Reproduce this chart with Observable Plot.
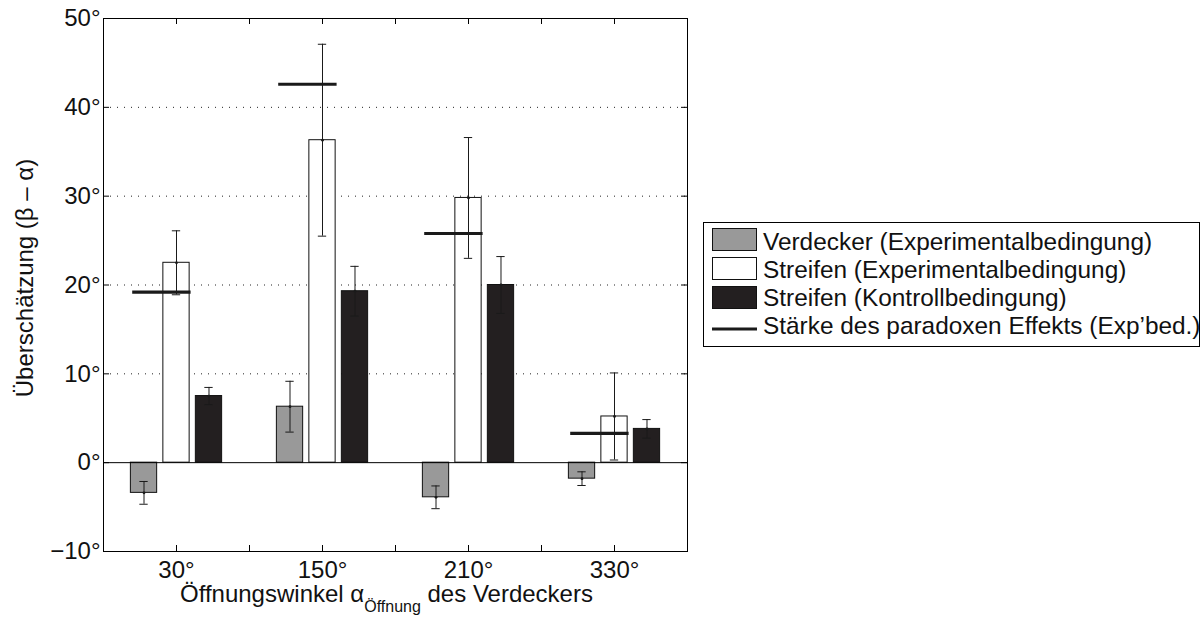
<!DOCTYPE html>
<html><head><meta charset="utf-8">
<script src="https://cdn.jsdelivr.net/npm/d3@7"></script>
<script src="https://cdn.jsdelivr.net/npm/@observablehq/plot@0.6"></script>
<style>body{margin:0;background:#fff} svg{display:block}</style>
</head><body><div id="chart"></div>
<script>
// ---- data ----
const groups = ["30°", "150°", "210°", "330°"];
const groupPos = [1, 3, 5, 7];
const occluder = [-3.4, 6.3, -3.9, -1.8];
const occluderErr = [1.28, 2.86, 1.28, 0.77];
const stripesExp = [22.5, 36.3, 29.8, 5.2];
const stripesExpErr = [3.6, 10.8, 6.8, 4.9];
const stripesCtrl = [7.5, 19.3, 20.0, 3.8];
const stripesCtrlErr = [0.97, 2.8, 3.2, 1.05];
const effect = [19.2, 42.6, 25.8, 3.3];
const yTicks = [-10, 0, 10, 20, 30, 40, 50];
const gridTicks = [10, 20, 30, 40];
const xTicks = [1, 2, 3, 4, 5, 6, 7];
const seriesNames = [
  "Verdecker (Experimentalbedingung)",
  "Streifen (Experimentalbedingung)",
  "Streifen (Kontrollbedingung)",
  "Stärke des paradoxen Effekts (Exp’bed.)"
];

// ---- styling ----
const FONT = "'Liberation Sans', Arial, Helvetica, sans-serif";
const fills = ["#999999", "#ffffff", "#231f20"];
const offsets = [-0.445, 0, 0.445];
const halfW = 0.18;
const cap = 0.057;

const seriesVals = [occluder, stripesExp, stripesCtrl];
const seriesErr = [occluderErr, stripesExpErr, stripesCtrlErr];
const bars = [];
groups.forEach((g, i) => {
  seriesVals.forEach((vals, s) => {
    const cx = groupPos[i] + offsets[s];
    bars.push({group: g, series: seriesNames[s], cx, x1: cx - halfW, x2: cx + halfW,
      value: vals[i], lo: vals[i] - seriesErr[s][i], hi: vals[i] + seriesErr[s][i], fill: fills[s]});
  });
});
const effRows = groups.map((g, i) => ({group: g, value: effect[i], x1: groupPos[i] - 0.6, x2: groupPos[i] + 0.2}));

const W = 1204, H = 618, mL = 103, mR = 517, mT = 18, mB = 67;
const plotW = W - mL - mR, plotH = H - mT - mB;
const tickLen = 6;
const xLabel = d => { const i = groupPos.indexOf(d); return i >= 0 ? groups[i] : ""; };
const yLabel = d => (d < 0 ? "\u2212" : "") + Math.abs(d) + "°";

const chart = Plot.plot({
  width: W, height: H,
  marginLeft: mL, marginRight: mR, marginTop: mT, marginBottom: mB,
  style: {fontFamily: FONT, fontSize: "24px", color: "#111", background: "#fff"},
  x: {domain: [0, 8]},
  y: {domain: [-10, 50]},
  marks: [
    Plot.ruleY(gridTicks, {stroke: "#222", strokeDasharray: "1,6", strokeWidth: 1}),
    Plot.rectY(bars, {x1: "x1", x2: "x2", y1: 0, y2: "value", fill: "fill", stroke: "#111", strokeWidth: 1}),
    Plot.ruleY([0], {stroke: "#000", strokeWidth: 1}),
    Plot.ruleX(bars, {x: "cx", y1: "lo", y2: "hi", stroke: "#1a1a1a", strokeWidth: 1}),
    Plot.ruleY(bars, {y: "lo", x1: d => d.cx - cap, x2: d => d.cx + cap, stroke: "#1a1a1a", strokeWidth: 1}),
    Plot.ruleY(bars, {y: "hi", x1: d => d.cx - cap, x2: d => d.cx + cap, stroke: "#1a1a1a", strokeWidth: 1}),
    Plot.dot(bars, {x: "cx", y: "value", r: 1.4, fill: "#1a1a1a", stroke: null}),
    Plot.ruleY(effRows, {y: "value", x1: "x1", x2: "x2", stroke: "#1a1a1a", strokeWidth: 3.2}),
    Plot.frame({stroke: "#000", strokeWidth: 1}),
    Plot.tickX(xTicks, {x: d => d, insetTop: plotH - tickLen, stroke: "#000"}),
    Plot.tickX(xTicks, {x: d => d, insetBottom: plotH - tickLen, stroke: "#000"}),
    Plot.tickY(yTicks, {y: d => d, insetRight: plotW - tickLen, stroke: "#000"}),
    Plot.tickY(yTicks, {y: d => d, insetLeft: plotW - tickLen, stroke: "#000"}),
    Plot.axisX(xTicks, {tickSize: 0, tickPadding: 9, tickFormat: xLabel, fontSize: 24, label: null}),
    Plot.axisY(yTicks, {tickSize: 0, tickPadding: 3, tickFormat: yLabel, fontSize: 24, label: null})
  ]
});
document.getElementById("chart").appendChild(chart);

// ---- axis titles and legend ----
const svg = d3.select(chart);
const xt = svg.append("text").attr("x", 180).attr("y", 602).attr("text-anchor", "start")
  .attr("font-family", FONT).attr("font-size", 24).attr("fill", "#111");
xt.append("tspan").text("Öffnungswinkel α");
xt.append("tspan").attr("font-size", 16).attr("dy", 10).text("Öffnung");
xt.append("tspan").attr("dy", -10).text(" des Verdeckers");

svg.append("text").attr("transform", "translate(33,278) rotate(-90)")
  .attr("text-anchor", "middle").attr("font-family", FONT).attr("font-size", 24).attr("fill", "#111")
  .text("Überschätzung (β – α)");

const lg = svg.append("g").attr("font-family", FONT).attr("font-size", 24.4).attr("fill", "#111")
  .attr("text-anchor", "start");
lg.append("rect").attr("x", 703.5).attr("y", 222.5).attr("width", 496).attr("height", 124)
  .attr("fill", "#fff").attr("stroke", "#000");
const rowBase = [250, 278, 306, 333.5];
const swTop = [228.5, 257.5, 286.5];
fills.forEach((f, i) => {
  lg.append("rect").attr("x", 712.5).attr("y", swTop[i]).attr("width", 44).attr("height", 22)
    .attr("fill", f).attr("stroke", "#111");
});
lg.append("line").attr("x1", 712).attr("x2", 757).attr("y1", 329).attr("y2", 329)
  .attr("stroke", "#1a1a1a").attr("stroke-width", 3);
seriesNames.forEach((n, i) => {
  lg.append("text").attr("x", 763).attr("y", rowBase[i]).attr("text-anchor", "start").text(n);
});
</script>
</body></html>
